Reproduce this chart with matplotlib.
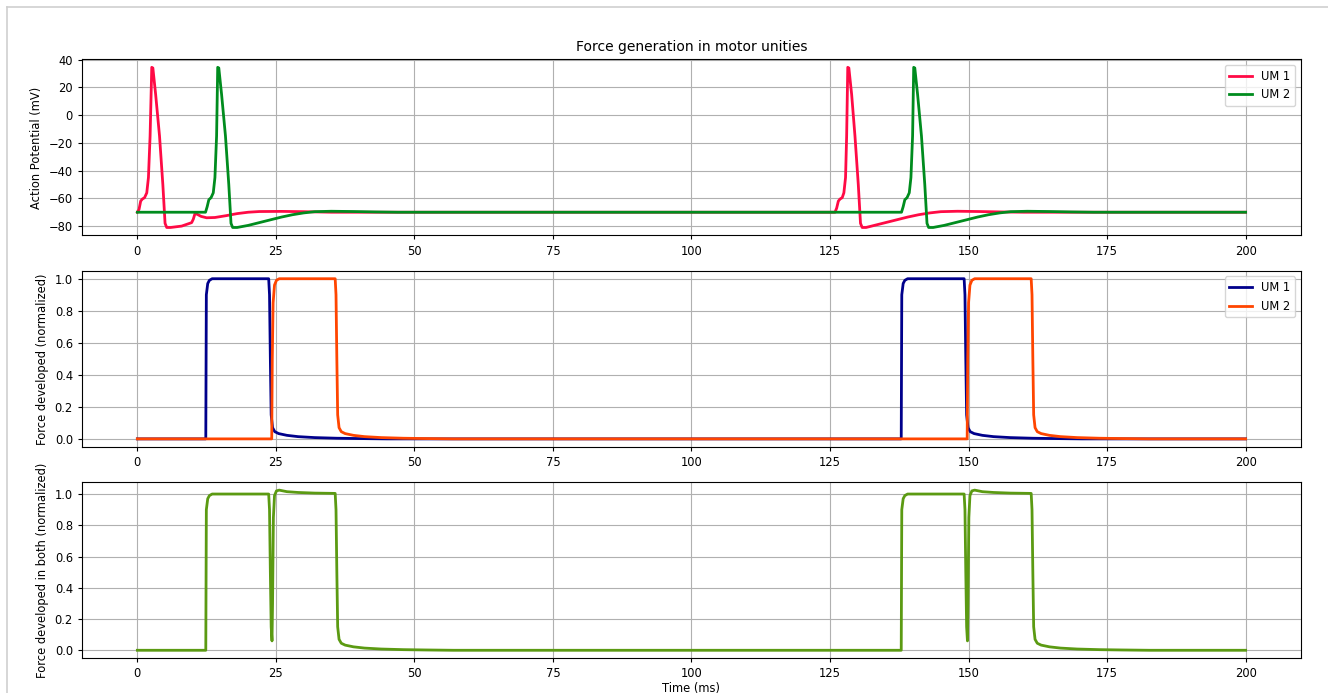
import matplotlib
matplotlib.use("Agg")
import matplotlib.pyplot as plt
from matplotlib.lines import Line2D
from matplotlib.ticker import MultipleLocator

plt.rcParams['font.size'] = 8.3
plt.rcParams['xtick.major.size'] = 3
plt.rcParams['ytick.major.size'] = 3

# ---- action potentials (mV) ----
t_ap1 = [0, 0.3, 0.6, 0.9, 1.3, 1.7, 2.0, 2.3, 2.6, 2.8, 3.3, 4.0, 4.6, 5.0, 5.3, 6.0, 8.0,
         9.8, 10.1, 10.4, 10.8, 11.5, 12.5, 14, 16, 18, 20, 22, 26, 30, 35,
         125.9, 126.2, 126.5, 126.8, 127.2, 127.5, 127.8, 128.0, 128.2, 128.4, 128.9, 129.5,
         130.1, 130.5, 130.8, 131.5, 133, 135, 137, 139, 141, 143, 145, 148, 152, 156, 160, 200]
v_ap1 = [-70, -68, -62, -60.5, -59.5, -56, -45, -15, 34.5, 34, 15, -15, -50, -78, -81, -81, -80,
         -77.5, -75, -71, -71.5, -73, -74, -73.8, -72.5, -71, -70, -69.5, -69.4, -69.6, -70,
         -70, -67, -62, -60.5, -59.5, -56, -45, -15, 34.5, 34, 15, -15,
         -50, -78, -81, -81, -79.5, -77.5, -75.5, -73.5, -71.8, -70.5, -69.6, -69.3, -69.5, -69.8, -70, -70]

t_ap2 = [0, 12.3, 12.6, 12.9, 13.3, 13.7, 14.0, 14.3, 14.5, 14.7, 15.2, 15.9, 16.5, 16.9, 17.2,
         18, 20, 22, 24, 26, 28, 30, 32, 35, 39, 43, 47,
         137.9, 138.2, 138.5, 138.9, 139.3, 139.6, 139.9, 140.1, 140.3, 140.8, 141.5, 142.1, 142.5,
         142.8, 143.6, 145.6, 147.6, 149.6, 151.6, 153.6, 155.6, 157.6, 160.6, 164.6, 168.6, 172.6, 200]
v_ap2 = [-70, -70, -66, -61, -59.5, -56, -45, -15, 34.5, 34, 15, -15, -50, -78, -81,
         -81, -79.5, -77.5, -75.5, -73.5, -71.8, -70.5, -69.6, -69.3, -69.5, -69.8, -70,
         -70, -66, -61, -59.5, -56, -45, -15, 34.5, 34, 15, -15, -50, -78,
         -81, -81, -79.5, -77.5, -75.5, -73.5, -71.8, -70.5, -69.6, -69.3, -69.5, -69.8, -70, -70]

# ---- force developed (normalized) ----
t_f1 = [0, 12.35, 12.45, 12.7, 13.0, 13.5, 23.7, 23.85, 24.0, 24.15, 24.4, 24.8, 25.5, 27, 29,
        32, 36, 40, 45,
        137.85, 137.95, 138.2, 138.5, 139.0, 149.2, 149.35, 149.5, 149.65, 149.9, 150.3, 151.0,
        152.5, 154.5, 157.5, 161.5, 165.5, 170.5, 200]
f_1 = [0, 0, 0.9, 0.97, 0.99, 1.0, 1.0, 0.9, 0.5, 0.15, 0.07, 0.045, 0.033, 0.022, 0.014,
       0.008, 0.004, 0.002, 0,
       0, 0.9, 0.97, 0.99, 1.0, 1.0, 0.9, 0.5, 0.15, 0.07, 0.045, 0.033,
       0.022, 0.014, 0.008, 0.004, 0.002, 0, 0]

t_f2 = [0, 24.25, 24.35, 24.5, 24.75, 25.1, 25.6, 35.7, 35.85, 36.0, 36.15, 36.4, 36.8, 37.5,
        39, 41, 44, 48, 52, 57,
        149.75, 149.85, 150.0, 150.25, 150.6, 151.1, 161.3, 161.45, 161.6, 161.75, 162.0, 162.4,
        163.1, 164.6, 166.6, 169.6, 173.6, 177.6, 182.6, 200]
f_2 = [0, 0, 0.5, 0.85, 0.96, 0.99, 1.0, 1.0, 0.9, 0.5, 0.15, 0.07, 0.045, 0.033,
       0.022, 0.014, 0.008, 0.004, 0.002, 0,
       0, 0.5, 0.85, 0.96, 0.99, 1.0, 1.0, 0.9, 0.5, 0.15, 0.07, 0.045,
       0.033, 0.022, 0.014, 0.008, 0.004, 0.002, 0, 0]

# ---- force in both ----
t_sum = [0, 12.35, 12.45, 12.7, 13.0, 13.5, 23.7, 23.85, 24.0, 24.15, 24.3, 24.4, 24.55, 24.75,
         25.1, 25.6, 27, 29, 32, 35.7, 35.85, 36.0, 36.15, 36.4, 36.8, 37.5, 39, 41, 44, 48, 52, 57,
         137.85, 137.95, 138.2, 138.5, 139.0, 149.2, 149.35, 149.5, 149.65, 149.8, 149.9, 150.05,
         150.25, 150.6, 151.1, 152.5, 154.5, 157.5, 161.3, 161.45, 161.6, 161.75, 162.0, 162.4,
         163.1, 164.6, 166.6, 169.6, 173.6, 177.6, 182.6, 200]
f_sum = [0, 0, 0.9, 0.97, 0.99, 1.0, 1.0, 0.9, 0.5, 0.15, 0.06, 0.3, 0.85, 0.99,
         1.02, 1.025, 1.015, 1.01, 1.006, 1.004, 0.9, 0.5, 0.15, 0.07, 0.045, 0.033, 0.022, 0.014,
         0.008, 0.004, 0.002, 0,
         0, 0.9, 0.97, 0.99, 1.0, 1.0, 0.9, 0.5, 0.15, 0.06, 0.3, 0.85,
         0.99, 1.02, 1.025, 1.015, 1.01, 1.006, 1.004, 0.9, 0.5, 0.15, 0.07, 0.045,
         0.033, 0.022, 0.014, 0.008, 0.004, 0.002, 0, 0]

fig, (ax1, ax2, ax3) = plt.subplots(3, 1, figsize=(13.28, 6.93), dpi=100)
fig.subplots_adjust(left=0.0617, right=0.9797, bottom=0.0501, top=0.9144, hspace=0.2)

# thin frame of the screenshot
fig.add_artist(Line2D([6.5 / 1328, 6.5 / 1328], [0, 1 - 7 / 693], transform=fig.transFigure,
                      color="#cfcfcf", lw=1.2))
fig.add_artist(Line2D([6.5 / 1328, 1], [1 - 7 / 693, 1 - 7 / 693], transform=fig.transFigure,
                      color="#cfcfcf", lw=1.2))

ax1.plot(t_ap1, v_ap1, color="#ff0a45", lw=2, label="UM 1")
ax1.plot(t_ap2, v_ap2, color="#008c1e", lw=2, label="UM 2")
ax1.set_title("Force generation in motor unities")
ax1.set_ylabel("Action Potential (mV)")
ax1.yaxis.set_major_locator(MultipleLocator(20))
ax1.legend(loc="upper right")
ax1.grid(True)

ax2.plot(t_f1, f_1, color="#00008b", lw=2, label="UM 1")
ax2.plot(t_f2, f_2, color="#ff4500", lw=2, label="UM 2")
ax2.set_ylabel("Force developed (normalized)")
ax2.legend(loc="upper right")
ax2.grid(True)

ax3.plot(t_sum, f_sum, color="#5b9a12", lw=2)
ax3.set_ylabel("Force developed in both (normalized)")
ax3.set_xlabel("Time (ms)", labelpad=1)
ax3.grid(True)

fig.savefig("out.png", dpi=100)
